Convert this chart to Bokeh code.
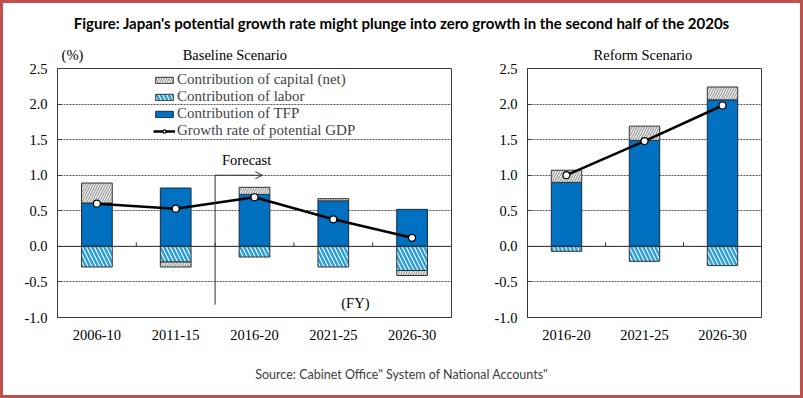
from bokeh.plotting import figure
from bokeh.models import (Range1d, FixedTicker, PrintfTickFormatter, Legend, LegendItem,
                          Span, Label, Arrow, OpenHead, Div, LinearAxis, GlobalInlineStyleSheet)
from bokeh.layouts import column, row
from bokeh.embed import file_html
from bokeh.resources import INLINE

# ---------------- data ----------------
title_text = "Figure: Japan's potential growth rate might plunge into zero growth in the second half of the 2020s"
source_text = 'Source: Cabinet Office" System of National Accounts"'

base_title = "Baseline Scenario"
reform_title = "Reform Scenario"
unit_text = "(%)"

base_categories = ["2006-10", "2011-15", "2016-20", "2021-25", "2026-30"]
base_capital = [0.28, -0.07, 0.10, 0.03, -0.07]
base_labor = [-0.29, -0.22, -0.15, -0.29, -0.34]
base_tfp = [0.61, 0.82, 0.73, 0.64, 0.52]
base_gdp = [0.60, 0.53, 0.69, 0.38, 0.12]

reform_categories = ["2016-20", "2021-25", "2026-30"]
reform_capital = [0.17, 0.20, 0.18]
reform_labor = [-0.07, -0.21, -0.27]
reform_tfp = [0.90, 1.49, 2.06]
reform_gdp = [1.00, 1.48, 1.98]

y_ticks = [-1.0, -0.5, 0.0, 0.5, 1.0, 1.5, 2.0, 2.5]
forecast_start = "2016-20"

legend_labels = ["Contribution of capital (net)", "Contribution of labor",
                 "Contribution of TFP", "Growth rate of potential GDP"]

SERIF = "Liberation Serif"
TFP_COLOR = "#0070c0"
LABOR_HATCH = "#2a9fd6"
FRAME = "#3a3a3a"


def make_panel(categories, capital, labor, tfp, gdp, width, bl, br, top_labels):
    n = len(categories)
    xs = list(range(n))
    cap_top, cap_bottom = [], []
    for c, l, t in zip(capital, labor, tfp):
        if c >= 0:
            cap_bottom.append(t)
            cap_top.append(t + c)
        else:
            cap_top.append(l)
            cap_bottom.append(l + c)

    p = figure(width=width, height=324, x_range=Range1d(-0.5, n - 0.5),
               y_range=Range1d(-1.0, 2.5), output_backend="svg", toolbar_location=None,
               min_border_left=bl, min_border_right=br, min_border_top=32,
               min_border_bottom=43, title=None)
    p.outline_line_color = FRAME
    p.outline_line_width = 1
    p.background_fill_color = "white"
    p.border_fill_color = "white"

    xa = p.xaxis[0]
    xa.ticker = FixedTicker(ticks=xs, minor_ticks=[])
    xa.major_label_overrides = {i: c for i, c in enumerate(categories)}
    xa.major_tick_line_color = None
    xa.minor_tick_line_color = None
    xa.major_tick_out = 0
    xa.major_tick_in = 0
    xa.axis_line_color = FRAME
    xa.major_label_text_font = SERIF
    xa.major_label_text_font_size = "14.5px"
    xa.major_label_text_color = "black"
    xa.major_label_standoff = 12

    # headings row above the frame (panel title, unit)
    top = LinearAxis(ticker=FixedTicker(ticks=[pos for pos, _ in top_labels], minor_ticks=[]),
                     major_label_overrides={pos: txt for pos, txt in top_labels},
                     axis_line_color=None, major_tick_line_color=None,
                     minor_tick_line_color=None, major_tick_in=0, major_tick_out=0,
                     major_label_text_font=SERIF, major_label_text_font_size="14.5px",
                     major_label_text_color="black", major_label_standoff=6)
    p.add_layout(top, "above")

    ya = p.yaxis[0]
    ya.ticker = FixedTicker(ticks=y_ticks, minor_ticks=[])
    ya.formatter = PrintfTickFormatter(format="%.1f")
    ya.major_tick_in = 4
    ya.major_tick_out = 0
    ya.major_tick_line_color = FRAME
    ya.minor_tick_line_color = None
    ya.axis_line_color = FRAME
    ya.major_label_text_font = SERIF
    ya.major_label_text_font_size = "14.5px"
    ya.major_label_text_color = "black"
    ya.major_label_standoff = 10

    p.xgrid.grid_line_color = None
    p.ygrid.ticker = FixedTicker(ticks=y_ticks, minor_ticks=[])
    p.ygrid.grid_line_color = "#555555"
    p.ygrid.grid_line_dash = "2 1"
    p.ygrid.grid_line_width = 1

    tfp_r = p.vbar(x=xs, top=tfp, bottom=0, width=0.39, fill_color=TFP_COLOR,
                   line_color="#1c2a44", line_width=1)
    labor_r = p.vbar(x=xs, top=0, bottom=labor, width=0.39, fill_color="white",
                     hatch_pattern="\\", hatch_color=LABOR_HATCH, hatch_scale=8,
                     hatch_weight=2.5, line_color="#333333", line_width=1)
    cap_r = p.vbar(x=xs, top=cap_top, bottom=cap_bottom, width=0.39, fill_color="#ececec",
                   hatch_pattern="/", hatch_color="#8c8c8c", hatch_scale=5,
                   hatch_weight=1, line_color="#333333", line_width=1)

    p.add_layout(Span(location=0, dimension="width", line_color="#333333", line_width=1))
    seps = [i + 0.5 for i in range(n - 1)]
    p.segment(x0=seps, y0=[0] * len(seps), x1=seps, y1=[0.055] * len(seps),
              line_color="#333333", line_width=1)

    line_r = p.line(xs, gdp, line_color="black", line_width=2.5)
    pts_r = p.scatter(xs, gdp, marker="circle", size=7, fill_color="white",
                      line_color="black", line_width=1.2)
    return p, [cap_r, labor_r, tfp_r, [line_r, pts_r]]


left, rends = make_panel(base_categories, base_capital, base_labor, base_tfp, base_gdp,
                         475, 57, 24, [(-0.31, unit_text), (1.75, base_title)])
right, _ = make_panel(reform_categories, reform_capital, reform_labor, reform_tfp, reform_gdp,
                      328, 52, 42, [(0.98, reform_title)])

items = []
for lab_text, r in zip(legend_labels, rends):
    items.append(LegendItem(label=lab_text, renderers=r if isinstance(r, list) else [r]))
legend = Legend(items=items, location=(96, 178), glyph_width=22, glyph_height=8,
                label_standoff=2, label_text_font=SERIF, label_text_font_size="15px",
                label_height=16, spacing=0, padding=0, margin=0,
                background_fill_alpha=0, border_line_color=None)
left.add_layout(legend)

# forecast marker
fx = base_categories.index(forecast_start) - 0.5
left.segment(x0=[fx], y0=[-0.82], x1=[fx], y1=[1.0], line_color="#333333", line_width=1)
left.add_layout(Arrow(end=OpenHead(size=7, line_width=1, line_color="#333333"),
                      x_start=fx, y_start=1.0, x_end=fx + 0.6, y_end=1.0,
                      line_color="#333333", line_width=1))


def lab(p, x, y, text):
    p.add_layout(Label(x=x, y=y, text=text, text_font=SERIF, text_font_size="14.5px",
                       text_align="center", text_baseline="middle", text_color="black"))


lab(left, fx + 0.4, 1.21, "Forecast")
lab(left, 3.28, -0.80, "(FY)")

title_div = Div(text=f'<div style="font-family:Lato;font-weight:bold;font-size:15px;'
                     f'text-align:center;width:803px;padding-top:13px;color:black;">{title_text}</div>',
                width=803, height=36, margin=0)
source_div = Div(text=f'<div style="font-family:Lato;font-size:12.5px;text-align:center;'
                      f'width:803px;padding-top:6px;color:#404040;">{source_text}</div>',
                 width=803, height=38, margin=0)

page_css = GlobalInlineStyleSheet(css="""
html, body { margin: 0 !important; padding: 0; background: white; }
body::after { content: ""; position: fixed; left: 0; top: 0; right: 0; bottom: 0;
  border: 3px solid #c0504d; pointer-events: none; z-index: 9999; }
""")

layout = column(title_div, row(left, right), source_div, stylesheets=[page_css])

open("out.html", "w").write(file_html(layout, INLINE))
